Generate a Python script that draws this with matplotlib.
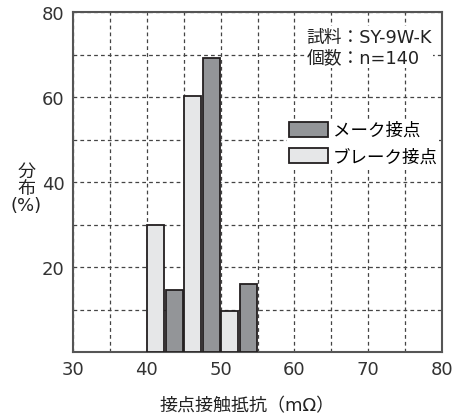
import matplotlib.pyplot as plt
import numpy as np
from matplotlib.patches import Patch

plt.rcParams['font.family'] = ['DejaVu Sans', 'Noto Sans CJK JP']

# resistance bins (mΩ), left edge of each bar
break_left = [40, 45, 50]
break_vals = [30.0, 60.3, 9.7]
make_left = [42.5, 47.5, 52.5]
make_vals = [14.6, 69.3, 16.1]

x_ticks = [30, 40, 50, 60, 70, 80]
y_ticks = [20, 40, 60, 80]

dark = '#939598'
light = '#e6e7e8'
edge = '#231f20'

fig = plt.figure(figsize=(4.67, 4.14), dpi=100)
ax = fig.add_axes([0.156, 0.147, 0.791, 0.821])

w = 2.3
ax.bar(np.array(break_left) + 0.1, break_vals, width=w, align='edge',
       color=light, edgecolor=edge, linewidth=1.3, zorder=3)
ax.bar(np.array(make_left) + 0.1, make_vals, width=w, align='edge',
       color=dark, edgecolor=edge, linewidth=1.3, zorder=3)

ax.set_xlim(30, 80)
ax.set_ylim(0, 80)
ax.set_xticks(x_ticks)
ax.set_yticks(y_ticks)
ax.set_xticks(np.arange(35, 80, 5), minor=True)
ax.set_yticks(np.arange(10, 80, 10), minor=True)
ax.tick_params(which='both', length=0, labelsize=13, colors='#333333', pad=6)
ax.grid(which='both', linestyle=(0, (3, 2.5)), color='#444444', linewidth=0.9, zorder=1)
for s in ax.spines.values():
    s.set_color('#555555')
    s.set_linewidth(1.5)

ax.text(0.632, 0.955, '試料：SY-9W-K\n個数：n=140', transform=ax.transAxes,
        fontsize=12.8, va='top', ha='left', color='#222222', linespacing=1.2,
        bbox=dict(facecolor='white', edgecolor='none', pad=1), zorder=4)

handles = [Patch(facecolor=dark, edgecolor=edge, linewidth=1.3, label='メーク接点'),
           Patch(facecolor=light, edgecolor=edge, linewidth=1.3, label='ブレーク接点')]
leg = ax.legend(handles=handles, loc='upper left', bbox_to_anchor=(0.58, 0.685),
                frameon=True, fancybox=False, fontsize=12.6, handlelength=2.25,
                handleheight=0.95, handletextpad=0.25, labelspacing=0.5,
                borderaxespad=0, borderpad=0.1)
leg.get_frame().set_facecolor('white')
leg.get_frame().set_edgecolor('none')
leg.get_frame().set_alpha(1)

fig.text(0.056, 0.543, '分\n布\n(%)', ha='center', va='center', fontsize=13,
         color='#222222', linespacing=0.95)
fig.text(0.53, 0.041, '接点接触抵抗（mΩ）', ha='center', va='top', fontsize=13,
         color='#222222')

fig.savefig('out.png', dpi=100)
